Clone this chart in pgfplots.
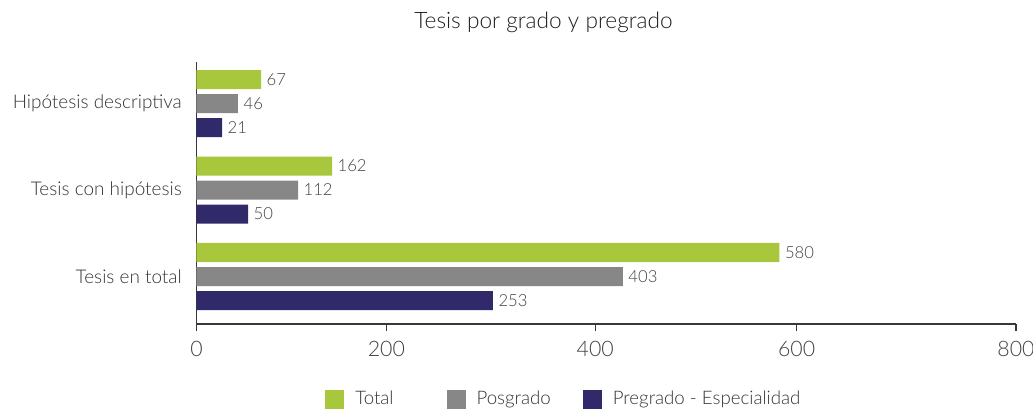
\documentclass[border=0pt]{standalone}
\usepackage{fontspec}
\setmainfont{Lato Light}
\usepackage{pgfplots}
\pgfplotsset{compat=1.18}
\definecolor{cgreen}{HTML}{A8C73C}
\definecolor{cgray}{HTML}{878787}
\definecolor{cnavy}{HTML}{302A6B}
\begin{document}
\begin{tikzpicture}[x=1pt,y=1pt]
\useasboundingbox (-147.375,-66) rectangle (627.375,243);
\begin{axis}[
  at={(0,0)}, anchor=south west, scale only axis,
  width=614.625pt, height=196.5pt,
  clip=false,
  xbar, bar shift=0pt, bar width=0.22,
  xmin=0, xmax=800, ymin=-0.549, ymax=2.48,
  axis x line*=bottom, axis y line*=left,
  axis line style={black!78, line width=1pt},
  xtick={0,185.3,389.3,585.9,800},
  xticklabels={0,200,400,600,800},
  tick align=outside, major tick length=5.25pt,
  xtick style={black!78, line width=1pt},
  ytick={0,1,2},
  yticklabels={Tesis en total, Tesis con hipótesis, Hipótesis descriptiva},
  ytick style={draw=none},
  yticklabel style={font=\fontsize{14.2}{16}\selectfont, text=black!80, inner sep=0pt, xshift=-5.6pt},
  xticklabel style={font=\fontsize{16}{18}\selectfont, text=black!75, yshift=-4pt},
  nodes near coords, point meta=explicit symbolic,
  nodes near coords style={font=\fontsize{12.5}{14}\selectfont, text=black!75, anchor=west, inner sep=0pt, xshift=4pt},
  legend columns=3,
  legend image code/.code={\fill[#1] (0pt,-7.125pt) rectangle (14.25pt,7.125pt);},
  legend style={draw=none, fill=none, inner sep=0pt, at={(0,0)}, anchor=west,
    xshift=96.4pt, yshift=-56.25pt, font=\fontsize{14}{16}\selectfont, text=black!80,
    nodes={inner sep=0pt},
    /tikz/every odd column/.append style={column sep=8.25pt},
    /tikz/column 2/.style={column sep=39.75pt},
    /tikz/column 4/.style={column sep=24pt}},
]
\addplot[fill=cgreen, draw=none] coordinates {(63.0,2.2775) [67] (132.3,1.2775) [162] (569.1,0.2775) [580]};
\addlegendentry{Total}
\addplot[fill=cgray, draw=none] coordinates {(40.5,2) [46] (99.1,1) [112] (416.2,0) [403]};
\addlegendentry{Posgrado}
\addplot[fill=cnavy, draw=none] coordinates {(24.9,1.7225) [21] (50.3,0.7225) [50] (289.4,-0.2775) [253]};
\addlegendentry{Pregrado - Especialidad}
\end{axis}
\node[anchor=base, font=\fontsize{17}{20}\selectfont, text=black!88] at (260.25,221.8) {Tesis por grado y pregrado};
\end{tikzpicture}
\end{document}
